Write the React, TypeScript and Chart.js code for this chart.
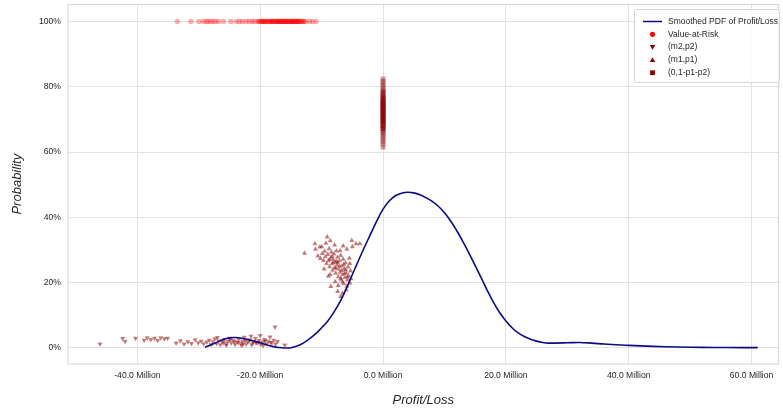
import React, { useEffect, useRef } from 'react';
import { Chart, registerables } from 'chart.js';

Chart.register(...registerables);

const FONT = "'Liberation Sans', Arial, Helvetica, sans-serif";

// Smoothed PDF curve (x in millions, y in percent)
const pdfX = [-29, -28, -27, -26, -25, -24, -23, -22, -21, -20, -19, -18, -17, -16, -15, -14, -13, -12, -11, -10, -9, -8, -7, -6, -5, -4, -3, -2, -1, 0, 1, 2, 3, 4, 5, 6, 7, 8, 9, 10, 11, 12, 13, 14, 15, 16, 17, 18, 19, 20, 21, 22, 23, 24, 25, 26, 27, 28, 30, 32, 34, 36, 38, 40, 44, 48, 52, 56, 61];
const pdfY = [0.2, 1.0, 1.8, 2.6, 3.1, 3.2, 3.0, 2.6, 2.1, 1.6, 1.0, 0.5, 0.15, 0.0, 0.1, 0.6, 1.5, 2.8, 4.3, 6.2, 8.3, 11.0, 14.2, 18.1, 22.5, 26.8, 31.0, 35.0, 39.0, 42.5, 45.0, 46.6, 47.4, 47.7, 47.5, 46.9, 46.0, 44.9, 43.4, 41.4, 38.9, 35.9, 32.6, 29.0, 25.2, 21.4, 17.5, 13.9, 10.8, 8.3, 6.2, 4.6, 3.5, 2.7, 2.1, 1.7, 1.5, 1.5, 1.6, 1.7, 1.5, 1.2, 1.0, 0.8, 0.5, 0.3, 0.2, 0.15, 0.1];

// Value-at-Risk points (x in millions), all at probability 100%
const varX = [-33.5, -31.3, -30.0, -29.3, -28.8, -28.5, -28.1, -27.7, -27.3, -26.8, -26.0, -24.8, -23.9, -23.4, -22.9, -22.3, -21.8, -21.3, -20.9, -20.4, -20.1, -19.8, -19.5, -19.3, -19.0, -18.7, -18.4, -18.2, -17.9, -17.6, -17.3, -17.1, -16.8, -16.5, -16.2, -16.0, -15.7, -15.4, -15.1, -14.9, -14.6, -14.3, -14.0, -13.8, -13.5, -13.2, -12.9, -12.6, -19.6, -18.9, -18.0, -17.0, -16.4, -15.5, -14.8, -14.1, -13.4, -12.0, -11.5, -10.9, -20.2, -19.7, -19.1, -18.5, -17.8, -17.4, -16.9, -16.6, -16.1, -15.8, -15.3, -15.0, -14.5, -14.2, -13.7, -13.0, -18.1, -17.2, -16.3, -15.6, -14.7, -13.9];
const varY = 100;

// (m2,p2) points
const m2X = [-46.1, -42.4, -42.0, -40.3, -38.9, -38.4, -37.8, -37.2, -36.7, -36.2, -35.6, -35.1, -33.7, -33.0, -32.4, -31.8, -31.2, -30.6, -30.1, -29.6, -29.2, -28.7, -28.3, -28.0, -27.7, -27.4, -27.1, -26.8, -26.5, -26.2, -25.9, -25.6, -25.3, -25.0, -24.7, -24.4, -24.1, -23.8, -23.5, -23.2, -22.9, -22.6, -22.3, -22.0, -21.7, -21.4, -21.1, -20.8, -20.5, -20.2, -19.9, -19.6, -19.3, -19.0, -18.7, -18.4, -18.1, -17.8, -17.5, -17.2, -21.5, -20.0, -17.6, -16.0, -23.0, -25.5, -19.5, -27.0, -26.0, -24.9, -23.6, -22.4, -21.2, -20.3, -19.2, -18.3, -24.2, -22.8, -21.8, -20.7];
const m2Y = [1.2, 2.9, 2.0, 3.0, 2.4, 3.1, 2.6, 3.0, 2.3, 3.1, 2.8, 3.0, 1.5, 2.2, 1.2, 1.9, 1.4, 2.5, 1.6, 2.1, 1.3, 1.8, 2.4, 1.1, 1.9, 2.8, 1.4, 2.2, 1.0, 1.8, 2.6, 1.3, 2.0, 3.0, 1.5, 2.3, 1.1, 1.9, 2.7, 1.4, 2.1, 3.3, 1.2, 1.8, 2.5, 1.0, 2.0, 2.9, 1.5, 2.3, 1.1, 1.9, 2.6, 1.3, 2.1, 3.4, 1.6, 2.4, 1.2, 2.0, 3.6, 3.8, 6.4, 0.9, 0.8, 0.9, 0.8, 3.2, 1.6, 2.4, 1.7, 2.2, 1.5, 1.8, 2.2, 1.7, 1.9, 1.3, 2.3, 1.6];

// (m1,p1) points
const m1X = [-12.8, -11.1, -11.0, -10.3, -9.3, -9.1, -8.6, -5.1, -4.4, -3.8, -5.0, -8.5, -7.4, -6.9, -6.6, -7.8, -10.6, -10.2, -9.9, -9.7, -9.5, -9.4, -9.2, -9.0, -8.9, -8.8, -8.7, -8.5, -8.4, -8.3, -8.2, -8.1, -8.0, -7.9, -7.8, -7.7, -7.6, -7.5, -7.4, -7.3, -7.2, -7.1, -7.0, -6.9, -6.8, -6.7, -6.6, -6.5, -6.4, -6.3, -6.2, -6.1, -6.0, -5.9, -5.8, -5.7, -5.6, -5.5, -5.4, -5.3, -5.2, -5.9, -6.5, -7.9, -10.0, -9.6, -8.6, -7.3, -6.0, -5.4, -7.0, -8.9, -7.6, -7.1, -6.7, -6.3, -5.8, -8.1, -7.7, -6.9, -6.4, -6.1, -8.7, -8.3, -7.4, -6.6];
const m1Y = [29.0, 31.9, 30.2, 30.9, 32.1, 34.0, 32.8, 32.9, 31.9, 31.9, 31.0, 18.8, 17.3, 15.8, 16.8, 20.3, 28.2, 27.4, 28.9, 26.8, 29.6, 27.9, 25.9, 28.6, 26.7, 30.4, 24.9, 27.6, 29.3, 25.8, 23.8, 27.0, 28.8, 24.6, 26.3, 22.9, 29.7, 25.4, 27.8, 21.8, 24.1, 26.7, 23.2, 28.3, 20.9, 25.1, 22.4, 27.2, 19.7, 24.3, 21.6, 26.0, 23.0, 18.9, 20.8, 24.8, 22.1, 27.5, 19.9, 23.6, 21.2, 30.2, 31.2, 31.5, 31.0, 24.2, 22.5, 19.1, 17.8, 25.9, 29.8, 22.0, 26.5, 25.0, 23.7, 22.8, 21.7, 26.1, 24.4, 21.3, 25.6, 23.9, 27.1, 28.0, 26.2, 20.2];

// (0,1-p1-p2) points, all at x = 0
const sqX = 0;
const sqY = [61.5, 62.5, 63.3, 64.0, 64.8, 65.4, 66.0, 66.5, 67.0, 67.4, 67.8, 68.2, 68.6, 69.0, 69.3, 69.7, 70.1, 70.4, 70.8, 71.1, 71.5, 71.9, 72.2, 72.6, 73.0, 73.3, 73.7, 74.1, 74.4, 74.8, 75.2, 75.6, 76.0, 76.4, 76.8, 77.2, 77.7, 78.2, 78.8, 79.5, 80.2, 80.9, 81.6, 82.4, 68.9, 70.0, 71.3, 72.4, 73.5, 74.6, 75.4, 69.5, 72.8, 76.2, 67.2, 68.0, 70.6, 71.7, 73.9, 75.0, 77.0, 78.5];

const xTicks = [-40, -20, 0, 20, 40, 60];
const yTicks = [0, 20, 40, 60, 80, 100];

const legendLabels = ['Smoothed PDF of Profit/Loss', 'Value-at-Risk', '(m2,p2)', '(m1,p1)', '(0,1-p1-p2)'];

const NAVY = '#0b0b86';
const RED = 'rgba(255,0,0,0.32)';
const DARK = 'rgba(139,0,0,0.55)';
const DARK_SQ = 'rgba(139,0,0,0.4)';
const TEXT = '#262626';

const frame = {
  id: 'frame',
  beforeDatasetsDraw(chart: any) {
    const { ctx, chartArea: a } = chart;
    ctx.save();
    ctx.strokeStyle = '#d4d4d4';
    ctx.lineWidth = 1;
    ctx.strokeRect(a.left, a.top, a.right - a.left, a.bottom - a.top);
    ctx.restore();
  },
};

const legendBox = {
  id: 'legendBox',
  afterDraw(chart: any) {
    const { ctx } = chart;
    const x0 = 634, y0 = 9, w = 145, h = 73;
    ctx.save();
    ctx.fillStyle = 'rgba(255,255,255,0.85)';
    ctx.strokeStyle = '#d4d4d4';
    ctx.lineWidth = 1;
    ctx.beginPath();
    ctx.roundRect(x0 + 0.5, y0 + 0.5, w, h, 2);
    ctx.fill();
    ctx.stroke();
    const rows = [21.5, 34.3, 47.1, 59.9, 72.7];
    const mx = 652.5;
    ctx.font = `8.5px ${FONT}`;
    ctx.textBaseline = 'middle';
    ctx.textAlign = 'left';
    rows.forEach((ry, i) => {
      if (i === 0) {
        ctx.strokeStyle = NAVY;
        ctx.lineWidth = 1.5;
        ctx.beginPath();
        ctx.moveTo(643, ry);
        ctx.lineTo(662, ry);
        ctx.stroke();
      } else if (i === 1) {
        ctx.fillStyle = '#ff0000';
        ctx.beginPath();
        ctx.arc(mx, ry, 2.6, 0, Math.PI * 2);
        ctx.fill();
      } else if (i === 2) {
        ctx.fillStyle = '#8b0000';
        ctx.beginPath();
        ctx.moveTo(mx - 2.8, ry - 2.2);
        ctx.lineTo(mx + 2.8, ry - 2.2);
        ctx.lineTo(mx, ry + 2.6);
        ctx.closePath();
        ctx.fill();
      } else if (i === 3) {
        ctx.fillStyle = '#8b0000';
        ctx.beginPath();
        ctx.moveTo(mx - 2.8, ry + 2.2);
        ctx.lineTo(mx + 2.8, ry + 2.2);
        ctx.lineTo(mx, ry - 2.6);
        ctx.closePath();
        ctx.fill();
      } else {
        ctx.fillStyle = '#8b0000';
        ctx.fillRect(mx - 2.4, ry - 2.4, 4.8, 4.8);
      }
      ctx.fillStyle = TEXT;
      ctx.fillText(legendLabels[i], 668, ry);
    });
    ctx.restore();
  },
};

export default function App() {
  const ref = useRef<HTMLCanvasElement>(null);

  useEffect(() => {
    const pdfData = pdfX.map((x, i) => ({ x, y: pdfY[i] / 100 }));
    const varData = varX.map((x) => ({ x, y: varY / 100 }));
    const m2Data = m2X.map((x, i) => ({ x, y: m2Y[i] / 100 }));
    const m1Data = m1X.map((x, i) => ({ x, y: m1Y[i] / 100 }));
    const sqData = sqY.map((y) => ({ x: sqX, y: y / 100 }));

    const tickFont = { family: FONT, size: 8.6 };
    const titleFont = { family: FONT, size: 13, style: 'italic' as const };

    const chart = new Chart(ref.current!, {
      type: 'scatter',
      data: {
        datasets: [
          {
            label: legendLabels[0],
            data: pdfData,
            showLine: true,
            borderColor: NAVY,
            backgroundColor: NAVY,
            borderWidth: 1.6,
            pointRadius: 0,
            tension: 0.4,
          } as any,
          {
            label: legendLabels[1],
            data: varData,
            pointStyle: 'circle',
            pointRadius: 2.7,
            backgroundColor: RED,
            borderWidth: 0,
          },
          {
            label: legendLabels[2],
            data: m2Data,
            pointStyle: 'triangle',
            rotation: 180,
            pointRadius: 3,
            backgroundColor: DARK,
            borderColor: 'rgba(255,255,255,0.5)',
            borderWidth: 0.4,
          },
          {
            label: legendLabels[3],
            data: m1Data,
            pointStyle: 'triangle',
            pointRadius: 3,
            backgroundColor: DARK,
            borderColor: 'rgba(255,255,255,0.5)',
            borderWidth: 0.4,
          },
          {
            label: legendLabels[4],
            data: sqData,
            pointStyle: 'rect',
            pointRadius: 3.4,
            backgroundColor: DARK_SQ,
            borderWidth: 0,
          },
        ],
      },
      options: {
        responsive: false,
        animation: false,
        events: [],
        layout: { padding: { top: 4, right: 2, left: 0, bottom: 0 } },
        plugins: {
          legend: { display: false },
          tooltip: { enabled: false },
        },
        scales: {
          x: {
            type: 'linear',
            min: -51.3,
            max: 64.4,
            afterBuildTicks: (s: any) => {
              s.ticks = xTicks.map((v) => ({ value: v }));
            },
            afterFit: (s: any) => {
              s.height = 45;
              s.paddingLeft = 0;
              s.paddingRight = 0;
            },
            ticks: {
              callback: (v: any) => Number(v).toFixed(1) + ' Million',
              font: tickFont,
              color: TEXT,
              padding: 6,
              maxRotation: 0,
              autoSkip: false,
            },
            grid: { color: '#e2e2e2', drawTicks: false },
            border: { display: false },
            title: {
              display: true,
              text: 'Profit/Loss',
              font: titleFont,
              color: TEXT,
              padding: { top: 0, bottom: 1 },
            },
          },
          y: {
            type: 'linear',
            min: -0.049,
            max: 1.052,
            afterBuildTicks: (s: any) => {
              s.ticks = yTicks.map((v) => ({ value: v / 100 }));
            },
            afterFit: (s: any) => {
              s.width = 68;
              s.paddingTop = 0;
              s.paddingBottom = 0;
            },
            ticks: {
              callback: (v: any) => Math.round(Number(v) * 100) + '%',
              font: tickFont,
              color: TEXT,
              padding: 7,
              autoSkip: false,
            },
            grid: { color: '#e2e2e2', drawTicks: false },
            border: { display: false },
            title: {
              display: true,
              text: 'Probability',
              font: titleFont,
              color: TEXT,
              padding: { top: 10, bottom: 0 },
            },
          },
        },
      },
      plugins: [frame, legendBox],
    });
    return () => chart.destroy();
  }, []);

  return (
    <div style={{ position: 'absolute', left: 0, top: 0, width: 783, height: 409, background: '#ffffff' }}>
      <canvas ref={ref} width={783} height={409} style={{ display: 'block', width: 783, height: 409 }} />
    </div>
  );
}
